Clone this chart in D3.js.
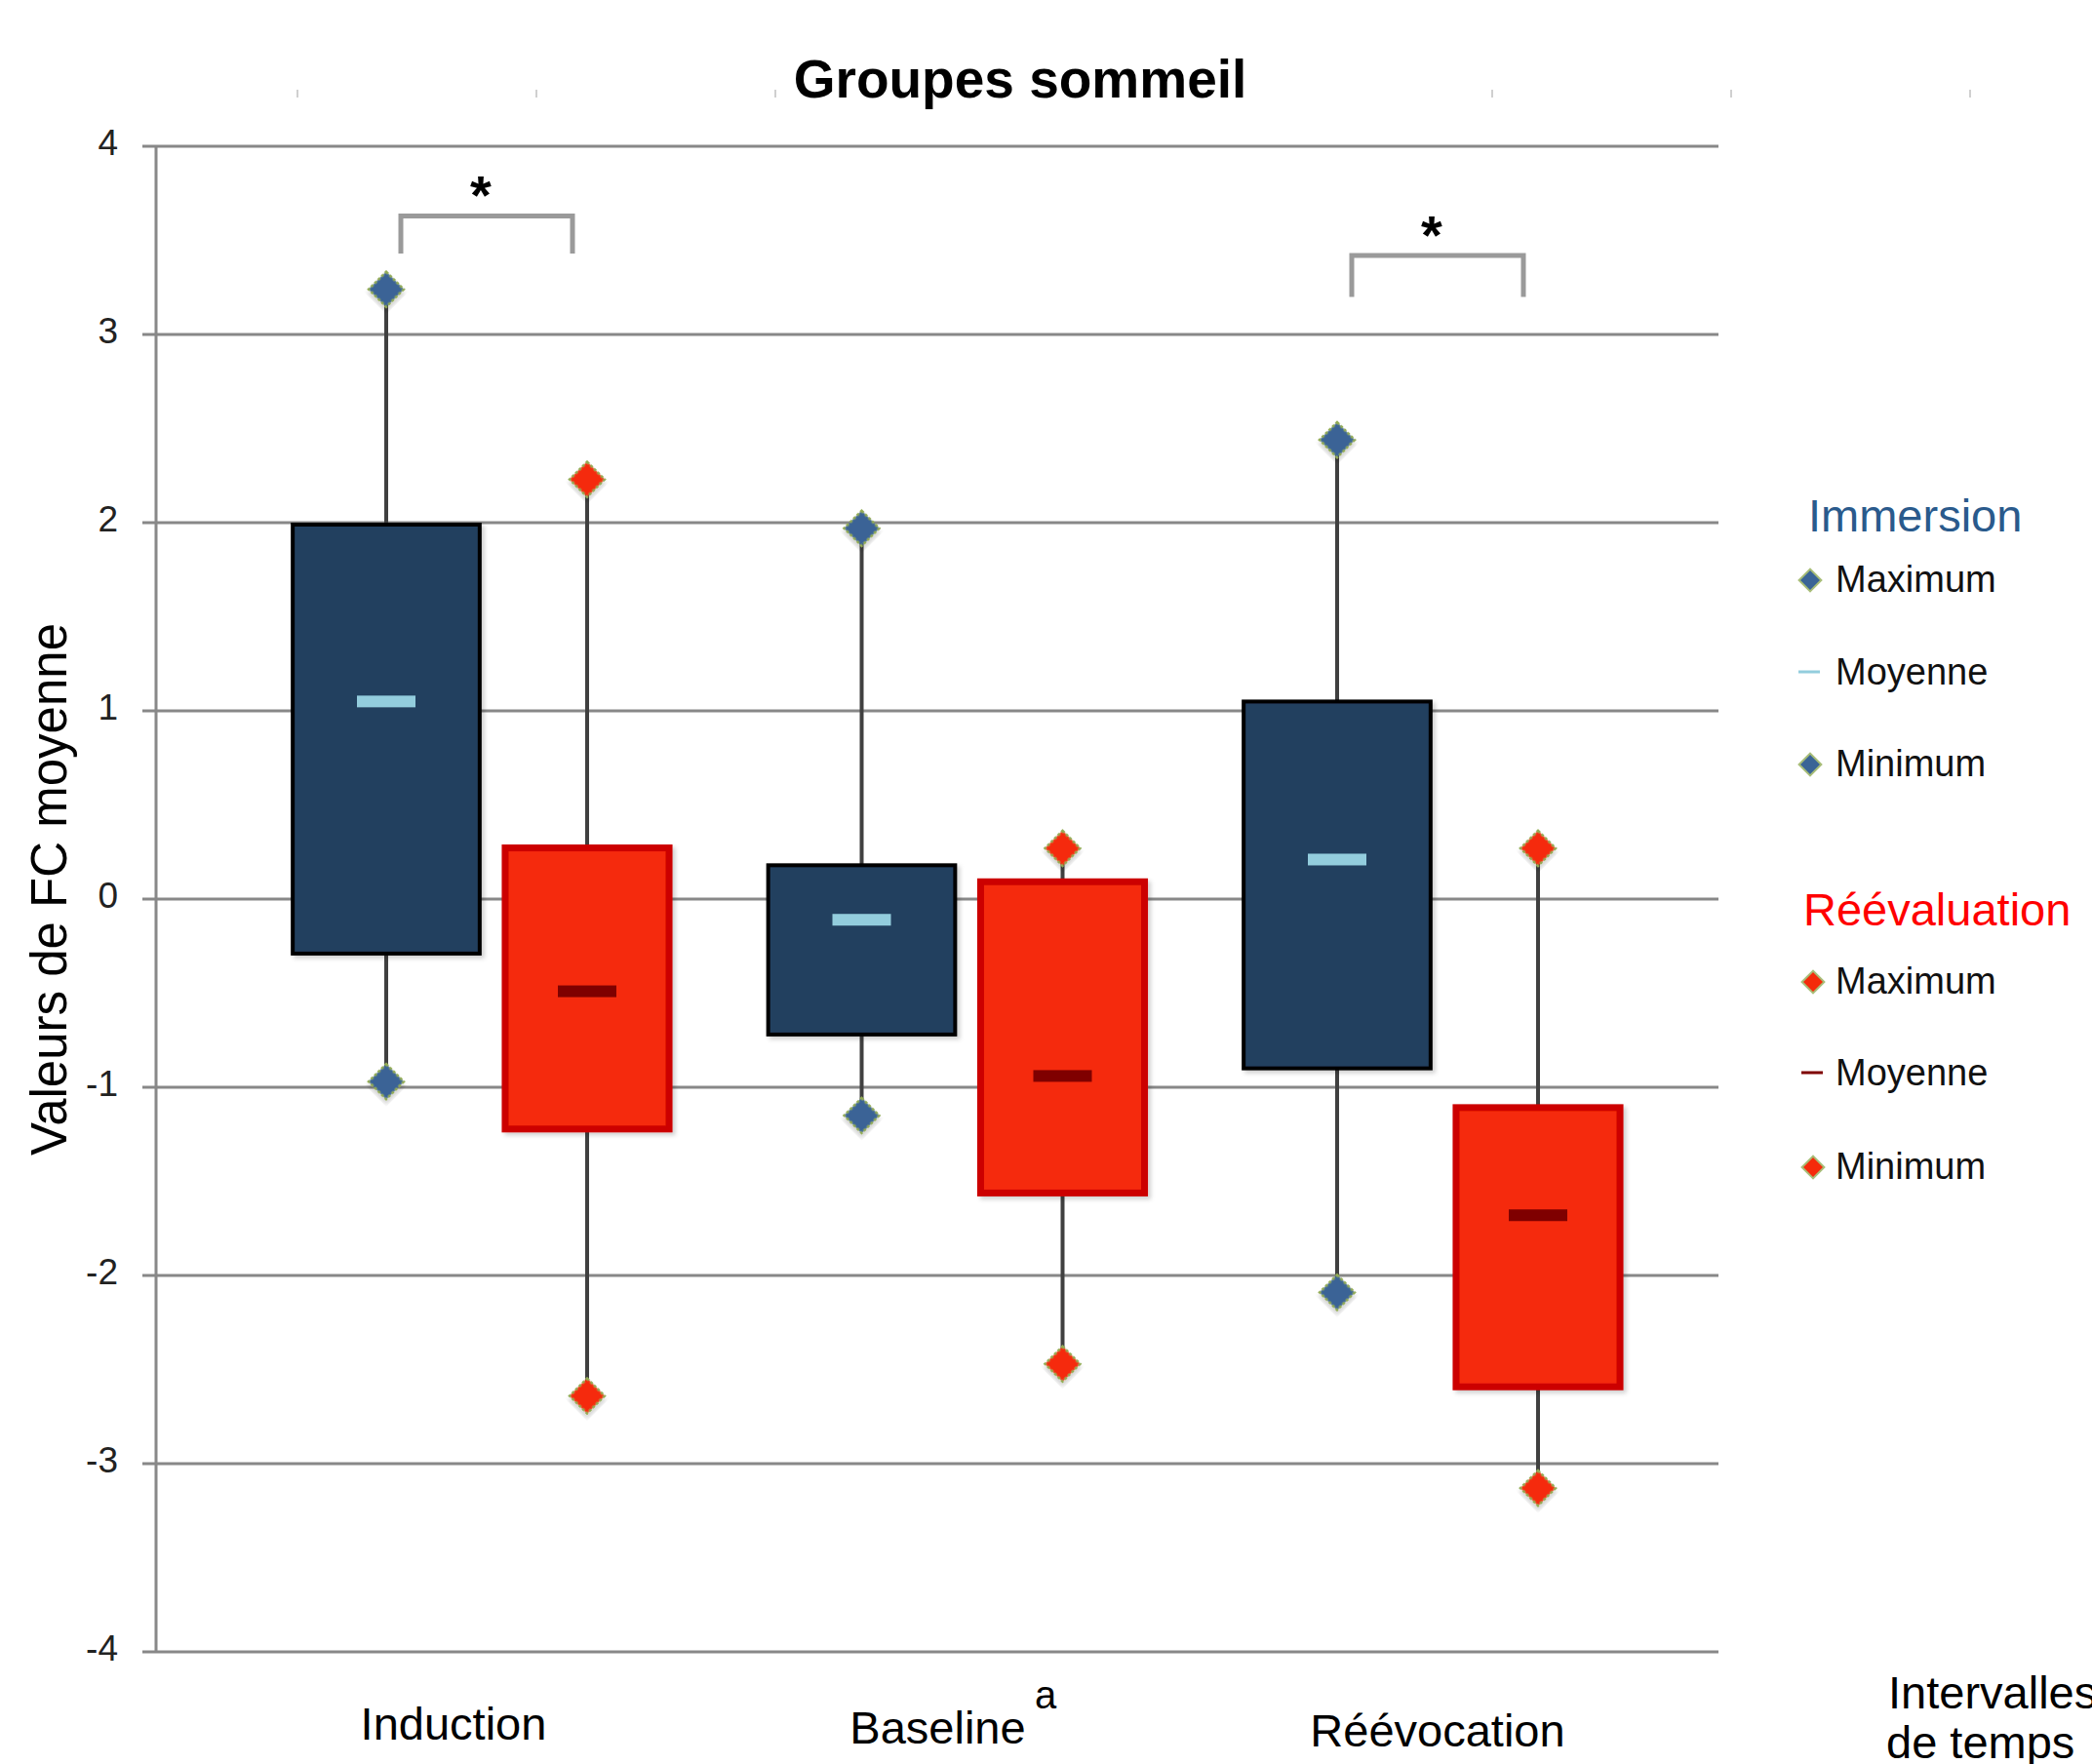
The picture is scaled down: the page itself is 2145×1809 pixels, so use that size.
<!DOCTYPE html>
<html>
<head>
<meta charset="utf-8">
<script src="https://cdn.jsdelivr.net/npm/d3@7"></script>
<style>
  body { margin: 0; background: #fff; }
  svg { display: block; font-family: "Liberation Sans", Arial, sans-serif; }
</style>
</head>
<body>
<div id="chart"></div>
<script>
// Data
var categories = ["Induction", "Baseline", "Réévocation"];
var groups = ["Immersion", "Réévaluation"];

var immersionMax    = [3.24, 1.97, 2.44];
var immersionTop    = [2.00, 0.19, 1.06];
var immersionMean   = [1.05, -0.11, 0.21];
var immersionBottom = [-0.30, -0.73, -0.91];
var immersionMin    = [-0.97, -1.15, -2.09];

var reevalMax    = [2.23, 0.27, 0.27];
var reevalTop    = [0.29, 0.11, -1.09];
var reevalMean   = [-0.49, -0.94, -1.68];
var reevalBottom = [-1.24, -1.58, -2.61];
var reevalMin    = [-2.64, -2.47, -3.13];

var yTicks = [-4, -3, -2, -1, 0, 1, 2, 3, 4];

// significance brackets: category, top value, leg bottom value
var brackets = [
    { cat: "Induction", top: 3.63, leg: 3.43 },
    { cat: "Réévocation", top: 3.42, leg: 3.20 }
];

var legendItems = ["Maximum", "Moyenne", "Minimum"];

// Layout
var W = 2145, H = 1809;
var plotLeft = 160, plotRight = 1762, plotTop = 150, plotBottom = 1694;

var svg = d3.select("#chart")
    .append("svg")
    .attr("width", W)
    .attr("height", H);

var yScale = d3.scaleLinear()
    .domain([-4, 4])
    .range([plotBottom, plotTop]);

var xScale = d3.scalePoint()
    .domain(categories)
    .range([499, 1474]);

var inner = d3.scaleBand()
    .domain(groups)
    .range([-206, 206]);

var colors = {
    "Immersion": { fill: "#243f5f", stroke: "#000", sw: 4, mean: "#93cddd", dot: "#3a6496", w: 0.95 },
    "Réévaluation": { fill: "#f52a0a", stroke: "#cc0000", sw: 7, mean: "#7f0000", dot: "#f52a0a", w: 0.85 }
};

var rows = [];
categories.forEach(function(c, i) {
    rows.push({ cat: c, grp: "Immersion", max: immersionMax[i], top: immersionTop[i], mean: immersionMean[i], bottom: immersionBottom[i], min: immersionMin[i] });
    rows.push({ cat: c, grp: "Réévaluation", max: reevalMax[i], top: reevalTop[i], mean: reevalMean[i], bottom: reevalBottom[i], min: reevalMin[i] });
});

function cx(d) { return xScale(d.cat) + inner(d.grp) + inner.bandwidth() / 2; }

// Title
var title = svg.append("text")
    .attr("x", 1046)
    .attr("y", 100)
    .attr("text-anchor", "middle")
    .attr("font-size", 55)
    .attr("font-weight", "bold")
    .attr("fill", "#000")
    .text("Groupes sommeil");

// faint top ticks (hidden by title in the middle)
var tb = title.node().getBBox();
var topTick = d3.scaleLinear().domain([0, 7]).range([305, 2020]);
svg.append("g").selectAll("line")
    .data(d3.range(8).filter(function(i) {
        var x = topTick(i);
        return x < tb.x - 15 || x > tb.x + tb.width + 15;
    }))
    .enter().append("line")
    .attr("x1", d => topTick(d)).attr("x2", d => topTick(d))
    .attr("y1", 92).attr("y2", 100)
    .attr("stroke", "#d0d0d0")
    .attr("stroke-width", 2);

// Gridlines
svg.append("g").selectAll("line")
    .data(yTicks)
    .enter().append("line")
    .attr("x1", 146).attr("x2", plotRight)
    .attr("y1", d => yScale(d)).attr("y2", d => yScale(d))
    .attr("stroke", "#888")
    .attr("stroke-width", 3);

// Y axis line
svg.append("line")
    .attr("x1", plotLeft).attr("x2", plotLeft)
    .attr("y1", yScale(4)).attr("y2", yScale(-4))
    .attr("stroke", "#888")
    .attr("stroke-width", 3);

// Y tick labels
svg.append("g").selectAll("text")
    .data(yTicks)
    .enter().append("text")
    .attr("x", 121)
    .attr("y", d => yScale(d) + 9)
    .attr("text-anchor", "end")
    .attr("font-size", 37)
    .attr("fill", "#222")
    .text(d => d);

// Y axis title
svg.append("text")
    .attr("transform", "translate(68,912) rotate(-90)")
    .attr("text-anchor", "middle")
    .attr("font-size", 51)
    .attr("fill", "#000")
    .text("Valeurs de FC moyenne");

// Whiskers
svg.append("g").selectAll("line")
    .data(rows)
    .enter().append("line")
    .attr("x1", cx).attr("x2", cx)
    .attr("y1", d => yScale(d.max)).attr("y2", d => yScale(d.min))
    .attr("stroke", "#404040")
    .attr("stroke-width", 4);

// Boxes
var shadow = svg.append("defs").append("filter")
    .attr("id", "shadow").attr("x", "-10%").attr("y", "-10%").attr("width", "130%").attr("height", "130%");
shadow.append("feDropShadow")
    .attr("dx", 3).attr("dy", 3).attr("stdDeviation", 2)
    .attr("flood-color", "#000").attr("flood-opacity", 0.18);

svg.append("g").selectAll("rect")
    .data(rows)
    .enter().append("rect")
    .attr("x", d => cx(d) - inner.bandwidth() * colors[d.grp].w / 2 + colors[d.grp].sw / 2)
    .attr("width", d => inner.bandwidth() * colors[d.grp].w - colors[d.grp].sw)
    .attr("y", d => yScale(d.top) + colors[d.grp].sw / 2)
    .attr("height", d => yScale(d.bottom) - yScale(d.top) - colors[d.grp].sw)
    .attr("fill", d => colors[d.grp].fill)
    .attr("stroke", d => colors[d.grp].stroke)
    .attr("stroke-width", d => colors[d.grp].sw)
    .attr("filter", "url(#shadow)");

// Means
svg.append("g").selectAll("rect")
    .data(rows)
    .enter().append("rect")
    .attr("x", d => cx(d) - 30)
    .attr("width", 60)
    .attr("y", d => yScale(d.mean) - 6)
    .attr("height", 12)
    .attr("fill", d => colors[d.grp].mean);

// Max / min diamonds
var diamond = d3.symbol().type(d3.symbolSquare).size(650);
var pts = [];
rows.forEach(function(d) {
    pts.push({ row: d, v: d.max });
    pts.push({ row: d, v: d.min });
});
svg.append("g").selectAll("path")
    .data(pts)
    .enter().append("path")
    .attr("d", diamond)
    .attr("transform", d => "translate(" + cx(d.row) + "," + yScale(d.v) + ") rotate(45)")
    .attr("fill", d => colors[d.row.grp].dot)
    .attr("stroke", "#93ac55")
    .attr("stroke-width", 2.5)
    .attr("stroke-dasharray", "3 2")
    .attr("filter", "url(#shadow)");

// Significance brackets
var br = svg.append("g");
brackets.forEach(function(b) {
    var c = xScale(b.cat);
    br.append("path")
        .attr("d", "M" + (c - 88) + "," + yScale(b.leg) + "V" + yScale(b.top) + "H" + (c + 88) + "V" + yScale(b.leg))
        .attr("fill", "none")
        .attr("stroke", "#9a9a9a")
        .attr("stroke-width", 5);
    br.append("text")
        .attr("x", c - 6)
        .attr("y", yScale(b.top) - 2)
        .attr("text-anchor", "middle")
        .attr("font-size", 56)
        .attr("font-weight", "bold")
        .text("*");
});

// Category labels
var labelDx = { "Induction": -34, "Baseline": -25, "Réévocation": 0 };
var labelY = { "Induction": 1784, "Baseline": 1788, "Réévocation": 1791 };
svg.append("g").selectAll("text")
    .data(categories)
    .enter().append("text")
    .attr("x", d => xScale(d) + labelDx[d])
    .attr("y", d => labelY[d])
    .attr("text-anchor", "middle")
    .attr("font-size", 47)
    .attr("fill", "#000")
    .text(d => d);

svg.append("text")
    .attr("x", 1072).attr("y", 1752)
    .attr("text-anchor", "middle")
    .attr("font-size", 40)
    .text("a");

svg.append("text")
    .attr("x", 1936).attr("y", 1752)
    .attr("font-size", 47)
    .text("Intervalles");
svg.append("text")
    .attr("x", 1934).attr("y", 1803)
    .attr("font-size", 47)
    .text("de temps");

// Legend
var small = d3.symbol().type(d3.symbolSquare).size(260);
var legendBlocks = [
    { grp: "Immersion", color: "#2a5a8c", tx: 1854, ty: 545, mx: 1856, ix: 1882, iy: [607, 702, 796] },
    { grp: "Réévaluation", color: "#ff0000", tx: 1849, ty: 949, mx: 1859, ix: 1882, iy: [1019, 1113, 1209] }
];
legendBlocks.forEach(function(b) {
    var g = svg.append("g");
    g.append("text")
        .attr("x", b.tx).attr("y", b.ty)
        .attr("font-size", 47)
        .attr("fill", b.color)
        .text(b.grp);
    legendItems.forEach(function(item, i) {
        var y = b.iy[i];
        if (item === "Moyenne") {
            g.append("line")
                .attr("x1", b.mx - 12).attr("x2", b.mx + 10)
                .attr("y1", y - 13).attr("y2", y - 13)
                .attr("stroke", colors[b.grp].mean)
                .attr("stroke-width", 3);
        } else {
            g.append("path")
                .attr("d", small)
                .attr("transform", "translate(" + b.mx + "," + (y - 12) + ") rotate(45)")
                .attr("fill", colors[b.grp].dot)
                .attr("stroke", "#a8bd78")
                .attr("stroke-width", 2);
        }
        g.append("text")
            .attr("x", b.ix).attr("y", y)
            .attr("font-size", 38)
            .attr("fill", "#111")
            .text(item);
    });
});
</script>
</body>
</html>
